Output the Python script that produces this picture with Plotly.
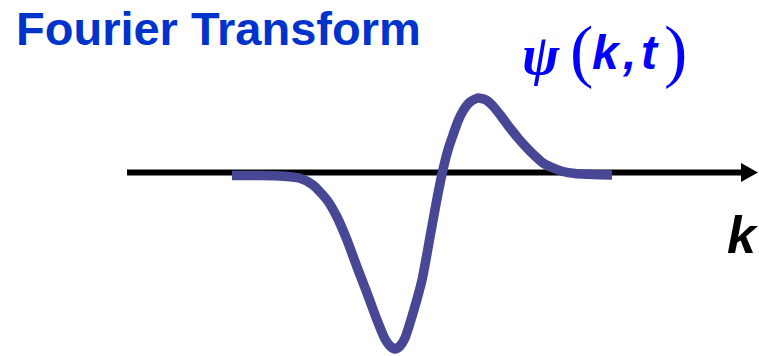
import plotly.graph_objects as go

# Curve (k in arbitrary units, psi amplitude)
k_values = [-5.275, -4.575, -4.075, -3.575, -3.25, -2.9, -2.65, -2.4, -2.15, -1.9,
            -1.65, -1.45, -1.325, -1.2, -1.075, -0.95, -0.75, -0.525, -0.325, -0.175,
            -0.025, 0.125, 0.25, 0.375, 0.5, 0.675, 0.875, 1.075, 1.25, 1.45,
            1.675, 1.875, 2.1, 2.3, 2.5, 2.75, 3.0, 3.3, 3.6, 3.925,
            4.225]
psi_values = [-0.033, -0.033, -0.039, -0.07, -0.158, -0.355, -0.579, -0.882, -1.237, -1.579,
              -1.934, -2.184, -2.276, -2.316, -2.276, -2.171, -1.842, -1.408, -0.842, -0.408,
              -0.013, 0.303, 0.5, 0.684, 0.816, 0.934, 0.987, 0.961, 0.882, 0.75,
              0.592, 0.461, 0.329, 0.224, 0.132, 0.066, 0.02, -0.007, -0.017, -0.024,
              -0.026]

title_text = "Fourier Transform"
axis_label = "k"

W, H = 759, 356


def px(x):
    return x / W


def py(y):
    return 1 - y / H


X0 = 443   # pixel of k = 0
Y0 = 173   # pixel of psi = 0
SX, SY = 40, 76

fig = go.Figure()
fig.add_trace(go.Scatter(
    x=k_values, y=psi_values, mode="lines",
    line=dict(color="#474795", width=9.5, shape="spline", smoothing=0.6),
    hoverinfo="skip", showlegend=False,
))

# horizontal axis with arrow
fig.add_shape(type="line", xref="paper", yref="paper",
              x0=px(127), x1=px(745), y0=py(172.5), y1=py(172.5),
              line=dict(color="black", width=6), layer="below")
fig.add_shape(type="path", xref="paper", yref="paper",
              path=f"M {px(741)},{py(163)} L {px(758)},{py(172.5)} L {px(741)},{py(182)} Z",
              fillcolor="black", line=dict(color="black", width=0), layer="below")

annotations = [
    dict(text=f"<b>{title_text}</b>", x=px(14), y=py(28.7), xanchor="left", yanchor="middle",
         font=dict(family="Liberation Sans, Arial", size=47, color="#0033cc")),
    dict(text=f"<b><i>{axis_label}</i></b>", x=px(743), y=py(235), xanchor="center", yanchor="middle",
         font=dict(family="Liberation Sans, Arial", size=52, color="black")),
    dict(text="<b><i>ψ</i></b>", x=px(541), y=py(55), xanchor="center", yanchor="middle",
         font=dict(family="Liberation Serif, Times New Roman", size=56, color="#0000ff")),
    dict(text="(", x=px(581), y=py(50), xanchor="center", yanchor="middle",
         font=dict(family="Liberation Serif, Times New Roman", size=70, color="#0000ff")),
    dict(text="<b><i>k</i></b>", x=px(606), y=py(53), xanchor="center", yanchor="middle",
         font=dict(family="Liberation Sans, Arial", size=48, color="#0000ff")),
    dict(text="<b><i>,</i></b>", x=px(629), y=py(53), xanchor="center", yanchor="middle",
         font=dict(family="Liberation Sans, Arial", size=48, color="#0000ff")),
    dict(text="<b><i>t</i></b>", x=px(650), y=py(53), xanchor="center", yanchor="middle",
         font=dict(family="Liberation Sans, Arial", size=48, color="#0000ff")),
    dict(text=")", x=px(675), y=py(50), xanchor="center", yanchor="middle",
         font=dict(family="Liberation Serif, Times New Roman", size=70, color="#0000ff")),
]
for a in annotations:
    a.update(xref="paper", yref="paper", showarrow=False)

fig.update_layout(
    width=W, height=H,
    margin=dict(l=0, r=0, t=0, b=0),
    paper_bgcolor="white", plot_bgcolor="white",
    xaxis=dict(range=[-X0 / SX, (W - X0) / SX], visible=False, fixedrange=True),
    yaxis=dict(range=[(Y0 - H) / SY, Y0 / SY], visible=False, fixedrange=True),
    annotations=annotations,
)

fig.write_html("out.html", config={"displayModeBar": False},
               post_script="document.body.style.margin='0';document.body.style.overflow='hidden';")
